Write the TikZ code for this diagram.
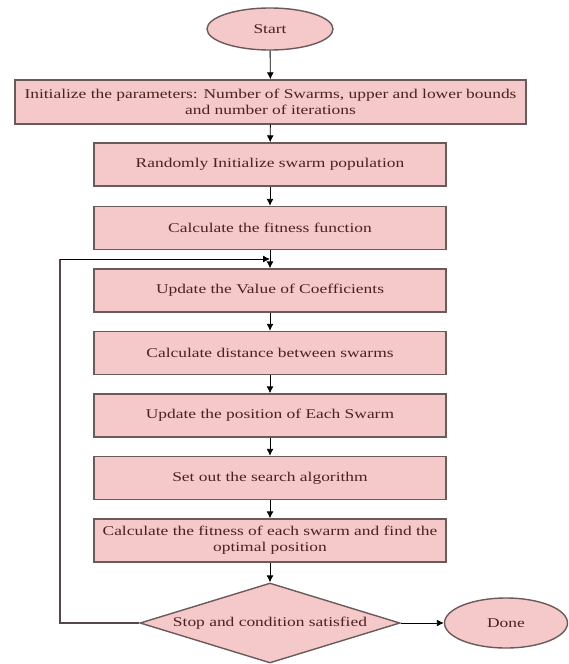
\documentclass[tikz,border=0pt]{standalone}
\usepackage{fontspec}
\setmainfont[FakeStretch=1.3]{Liberation Serif}
\usetikzlibrary{shapes.geometric,arrows.meta}
\definecolor{boxfill}{HTML}{F5C9C9}
\definecolor{boxline}{HTML}{6A5A5A}
\definecolor{txt}{HTML}{4A2020}
\begin{document}
\begin{tikzpicture}[x=1pt,y=-1pt,
  every node/.style={font=\fontsize{13.4}{16}\selectfont, text=txt},
  procbox/.style={rectangle, draw=boxline, line width=1.4pt, fill=boxfill, minimum width=352pt, minimum height=43pt, align=center, inner sep=0pt},
  term/.style={ellipse, draw=boxline, line width=1.4pt, fill=boxfill, inner sep=0pt},
  decis/.style={diamond, aspect=3.25, draw=boxline, line width=1.4pt, fill=boxfill, minimum width=260pt, minimum height=80pt, inner sep=0pt},
  arr/.style={draw=black, line width=0.9pt, -{Latex[length=7pt,width=7pt]}},
  plain/.style={draw=boxline!80!black, line width=1.2pt}]
\useasboundingbox (0,0) rectangle (569,664);
\node[term, minimum width=126pt, minimum height=42pt] (start) at (270,29) {Start};
\node[procbox, minimum width=511pt, minimum height=44pt] (b1) at (270.5,102) {Initialize the parameters: Number of Swarms, upper and lower bounds\\and number of iterations};
\node[procbox] (b2) at (270,164.5) {Randomly Initialize swarm population};
\node[procbox] (b3) at (270,228) {Calculate the fitness function};
\node[procbox] (b4) at (270,290.5) {Update the Value of Coefficients};
\node[procbox] (b5) at (270,353) {Calculate distance between swarms};
\node[procbox] (b6) at (270,415.5) {Update the position of Each Swarm};
\node[procbox] (b7) at (270,478) {Set out the search algorithm};
\node[procbox] (b8) at (270,540.5) {Calculate the fitness of each swarm and find the\\optimal position};
\node[decis] (dec) at (270,623) {Stop and condition satisfied};
\node[term, minimum width=123pt, minimum height=50pt] (done) at (506,623) {Done};
\coordinate (lp) at (60,259);
\coordinate (jn) at (270,259);
\draw[arr] (start) -- (b1);
\draw[arr] (b1) -- (b2);
\draw[arr] (b2) -- (b3);
\draw[arr] (b3) -- (b4);
\draw[arr] (b4) -- (b5);
\draw[arr] (b5) -- (b6);
\draw[arr] (b6) -- (b7);
\draw[arr] (b7) -- (b8);
\draw[arr] (b8) -- (dec);
\draw[arr] (dec) -- (done);
\draw[plain] (dec.west) -| (lp);
\draw[arr] (lp) -- (jn);
\end{tikzpicture}
\end{document}
